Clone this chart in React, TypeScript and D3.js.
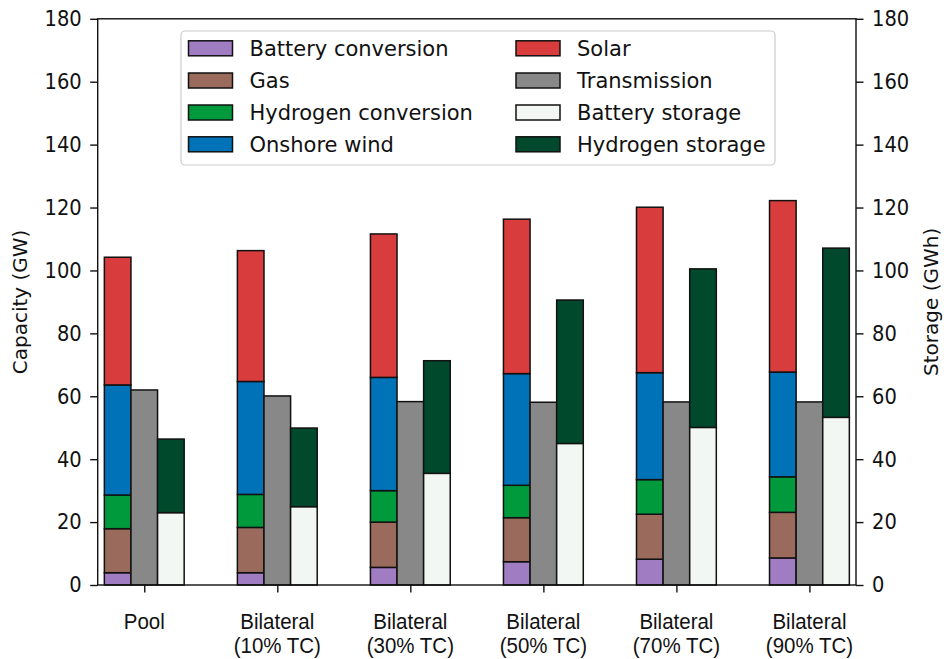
import React, { useEffect, useRef } from "react";
import * as d3 from "d3";

// scenarios on the x axis (second line of label after "\n")
const categories = [
  "Pool",
  "Bilateral\n(10% TC)",
  "Bilateral\n(30% TC)",
  "Bilateral\n(50% TC)",
  "Bilateral\n(70% TC)",
  "Bilateral\n(90% TC)",
];

// capacity (GW), stacked from bottom
const batteryConversion = [3.9, 3.9, 5.6, 7.4, 8.2, 8.6];
const gas = [14.0, 14.4, 14.4, 14.0, 14.3, 14.5];
const hydrogenConversion = [10.7, 10.5, 10.0, 10.3, 11.0, 11.3];
const onshoreWind = [35.0, 35.9, 36.0, 35.5, 34.0, 33.3];
const solar = [40.6, 41.6, 45.6, 49.1, 52.6, 54.5];

// transmission capacity (GW)
const transmission = [62.0, 60.1, 58.3, 58.1, 58.2, 58.2];

// storage (GWh), stacked
const batteryStorage = [23.0, 24.9, 35.5, 45.0, 50.1, 53.3];
const hydrogenStorage = [23.4, 25.0, 35.8, 45.6, 50.4, 53.8];

const yTicks = [0, 20, 40, 60, 80, 100, 120, 140, 160, 180];

const colors = {
  batteryConversion: "#a07cc2",
  gas: "#9a6a5c",
  hydrogenConversion: "#009a3c",
  onshoreWind: "#0072b8",
  solar: "#d83c3c",
  transmission: "#888888",
  batteryStorage: "#f2f7f3",
  hydrogenStorage: "#00492c",
};

const FONT = "DejaVu Sans, sans-serif";
const STRETCH = 1.1; // reference text is a bit taller than wide

const App = () => {
  const chartRef = useRef<HTMLDivElement>(null);

  useEffect(() => {
    document.body.style.margin = "0";
    const width = 944;
    const height = 659;
    const left = 97.7;
    const right = 856;
    const top = 18.8;
    const bottom = 585;

    d3.select(chartRef.current).select("svg").remove();

    const svg = d3
      .select(chartRef.current)
      .append("svg")
      .attr("width", width)
      .attr("height", height)
      .style("display", "block")
      .style("font-family", FONT);

    const x = d3.scaleLinear().domain([-0.35, 5.35]).range([left, right]);
    const y = d3.scaleLinear().domain([0, 180]).range([bottom, top]);
    const w = 0.2;

    // stacked capacity bars
    const rows = categories.map((c, i) => ({
      i,
      batteryConversion: batteryConversion[i],
      gas: gas[i],
      hydrogenConversion: hydrogenConversion[i],
      onshoreWind: onshoreWind[i],
      solar: solar[i],
    }));
    const capKeys = ["batteryConversion", "gas", "hydrogenConversion", "onshoreWind", "solar"];
    const capStack = d3.stack<any>().keys(capKeys)(rows);

    capStack.forEach((layer) => {
      svg
        .append("g")
        .selectAll("rect")
        .data(layer)
        .enter()
        .append("rect")
        .attr("x", (d: any) => x(d.data.i - 1.5 * w))
        .attr("width", x(w) - x(0))
        .attr("y", (d) => y(d[1]))
        .attr("height", (d) => y(d[0]) - y(d[1]))
        .attr("fill", (colors as any)[layer.key])
        .attr("stroke", "#111")
        .attr("stroke-width", 1.5);
    });

    // transmission bars
    svg
      .append("g")
      .selectAll("rect")
      .data(transmission)
      .enter()
      .append("rect")
      .attr("x", (d, i) => x(i - 0.5 * w))
      .attr("width", x(w) - x(0))
      .attr("y", (d) => y(d))
      .attr("height", (d) => y(0) - y(d))
      .attr("fill", colors.transmission)
      .attr("stroke", "#111")
      .attr("stroke-width", 1.5);

    // storage bars (right axis, same 0-180 range)
    const storRows = categories.map((c, i) => ({
      i,
      batteryStorage: batteryStorage[i],
      hydrogenStorage: hydrogenStorage[i],
    }));
    const storStack = d3.stack<any>().keys(["batteryStorage", "hydrogenStorage"])(storRows);
    storStack.forEach((layer) => {
      svg
        .append("g")
        .selectAll("rect")
        .data(layer)
        .enter()
        .append("rect")
        .attr("x", (d: any) => x(d.data.i + 0.5 * w))
        .attr("width", x(w) - x(0))
        .attr("y", (d) => y(d[1]))
        .attr("height", (d) => y(d[0]) - y(d[1]))
        .attr("fill", (colors as any)[layer.key])
        .attr("stroke", "#111")
        .attr("stroke-width", 1.5);
    });

    // frame
    svg
      .append("rect")
      .attr("x", left)
      .attr("y", top)
      .attr("width", right - left)
      .attr("height", bottom - top)
      .attr("fill", "none")
      .attr("stroke", "#111")
      .attr("stroke-width", 1.4);

    // axes
    const styleAxis = (g: any) => {
      g.select(".domain").remove();
      g.selectAll("line").attr("stroke", "#111").attr("stroke-width", 1.4);
      g.selectAll("text")
        .attr("font-family", FONT)
        .attr("font-size", 19.5)
        .attr("fill", "#111")
        .attr("transform", `scale(1,${STRETCH})`);
    };

    svg
      .append("g")
      .attr("transform", `translate(${left},0)`)
      .call(d3.axisLeft(y).tickValues(yTicks).tickSize(7.5).tickPadding(8.5))
      .call(styleAxis);

    svg
      .append("g")
      .attr("transform", `translate(${right},0)`)
      .call(d3.axisRight(y).tickValues(yTicks).tickSize(7.5).tickPadding(8.5))
      .call(styleAxis);

    const xAxis = svg
      .append("g")
      .attr("transform", `translate(0,${bottom})`)
      .call(
        d3
          .axisBottom(x)
          .tickValues(d3.range(categories.length))
          .tickSize(7.5)
          .tickFormat(() => "")
      )
      .call(styleAxis);

    // two-line category labels
    categories.forEach((c, i) => {
      const t = xAxis
        .append("g")
        .attr("transform", `translate(${x(i)},0) scale(1,${STRETCH})`)
        .append("text")
        .attr("x", 0)
        .attr("y", 44.5 / STRETCH)
        .attr("text-anchor", "middle")
        .attr("font-size", 20.5)
        .attr("fill", "#111");
      c.split("\n").forEach((line, j) => {
        t.append("tspan").attr("x", 0).attr("dy", j === 0 ? 0 : 23.5 / STRETCH).text(line);
      });
    });

    // axis titles
    svg
      .append("text")
      .attr("transform", `translate(27,${(top + bottom) / 2}) rotate(-90)`)
      .attr("text-anchor", "middle")
      .attr("font-size", 20)
      .attr("fill", "#111")
      .text("Capacity (GW)");

    svg
      .append("text")
      .attr("transform", `translate(938,${(top + bottom) / 2}) rotate(-90)`)
      .attr("text-anchor", "middle")
      .attr("font-size", 20)
      .attr("fill", "#111")
      .text("Storage (GWh)");

    // legend
    const legendItems = [
      ["Battery conversion", colors.batteryConversion],
      ["Gas", colors.gas],
      ["Hydrogen conversion", colors.hydrogenConversion],
      ["Onshore wind", colors.onshoreWind],
      ["Solar", colors.solar],
      ["Transmission", colors.transmission],
      ["Battery storage", colors.batteryStorage],
      ["Hydrogen storage", colors.hydrogenStorage],
    ];
    const legend = svg.append("g");
    legend
      .append("rect")
      .attr("x", 181)
      .attr("y", 31)
      .attr("width", 594)
      .attr("height", 134)
      .attr("rx", 4)
      .attr("fill", "white")
      .attr("fill-opacity", 0.8)
      .attr("stroke", "#cccccc")
      .attr("stroke-width", 1.2);

    const colX = [188.5, 516];
    const rowY = [48.3, 80.5, 112.5, 144.3];
    legendItems.forEach(([label, color], k) => {
      const cx = colX[Math.floor(k / 4)];
      const cy = rowY[k % 4];
      legend
        .append("rect")
        .attr("x", cx)
        .attr("y", cy - 7.5)
        .attr("width", 44)
        .attr("height", 15)
        .attr("fill", color)
        .attr("stroke", "#111")
        .attr("stroke-width", 1.5);
      legend
        .append("text")
        .attr("x", cx + 61)
        .attr("y", cy + 7.5)
        .attr("font-size", 21)
        .attr("fill", "#111")
        .text(label);
    });
  }, []);

  return <div ref={chartRef}></div>;
};

export default App;
